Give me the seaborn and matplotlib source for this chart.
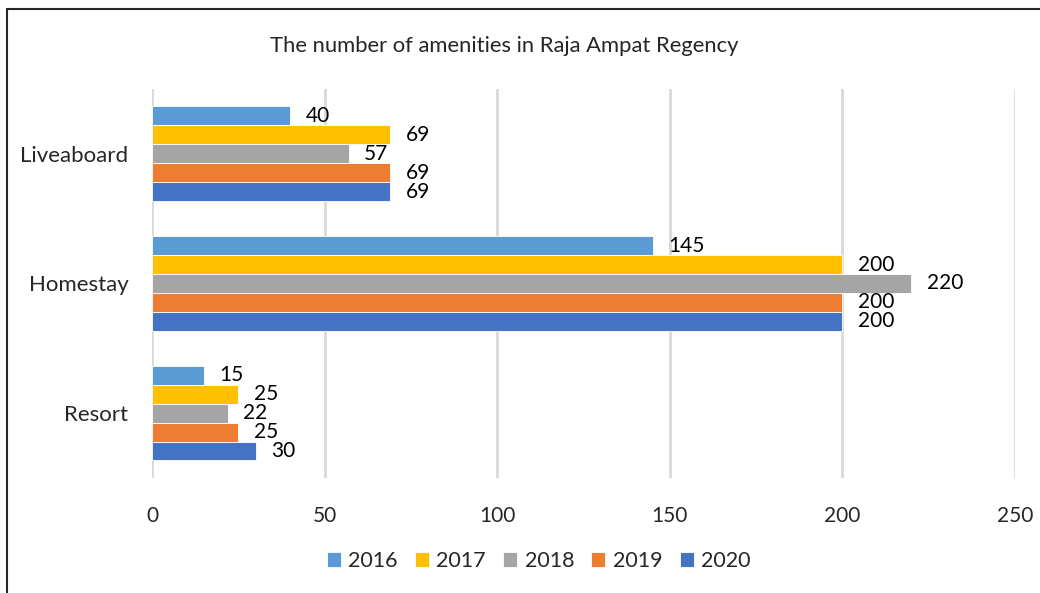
import pandas as pd
import matplotlib.pyplot as plt
import seaborn as sns
from matplotlib.patches import Rectangle

sns.set_theme(style="white")
plt.rcParams['font.family'] = ['Lato', 'DejaVu Sans']

categories = ['Liveaboard', 'Homestay', 'Resort']
years = ['2016', '2017', '2018', '2019', '2020']
v2016 = [40, 145, 15]
v2017 = [69, 200, 25]
v2018 = [57, 220, 22]
v2019 = [69, 200, 25]
v2020 = [69, 200, 30]
colors = ['#5B9BD5', '#FFC000', '#A5A5A5', '#ED7D31', '#4472C4']

rows = []
for year, vals in zip(years, [v2016, v2017, v2018, v2019, v2020]):
    for cat, v in zip(categories, vals):
        rows.append({'category': cat, 'year': year, 'count': v})
df = pd.DataFrame(rows)

fig = plt.figure(figsize=(10.4, 5.93), dpi=100)
ax = fig.add_axes([0.1462, 0.194, 0.8298, 0.656])

sns.barplot(data=df, y='category', x='count', hue='year', order=categories,
            hue_order=years, palette=colors, saturation=1, orient='h', width=0.73,
            edgecolor='white', linewidth=0.6, ax=ax, legend=True)

for cont in ax.containers:
    ax.bar_label(cont, padding=11, fontsize=15, color='black')

ax.set_xlim(0, 250)
ax.set_xticks([0, 50, 100, 150, 200, 250])
ax.xaxis.grid(True, color='#D9D9D9', linewidth=2)
ax.set_axisbelow(True)
for s in ax.spines.values():
    s.set_visible(False)
ax.set_xlabel('')
ax.set_ylabel('')
ax.tick_params(axis='x', labelsize=15, labelcolor='#262626', pad=20, length=0)
ax.tick_params(axis='y', labelsize=16, labelcolor='#262626', pad=17, length=0)

fig.text(0.485, 0.923, 'The number of amenities in Raja Ampat Regency',
         ha='center', va='center', fontsize=15.8, color='#262626')

handles, labels = ax.get_legend_handles_labels()
ax.legend_.remove()
fig.legend(handles, labels, loc='center', bbox_to_anchor=(0.518, 0.054), ncol=5,
           frameon=False, fontsize=15.5, handlelength=0.65, handleheight=0.65,
           handletextpad=0.35, columnspacing=0.8)

fig.patches.append(Rectangle((0.0063, -0.1), 1.2, 1.0848, transform=fig.transFigure,
                             fill=False, edgecolor='#262626', linewidth=1.5))

fig.savefig('out.png', dpi=100)
